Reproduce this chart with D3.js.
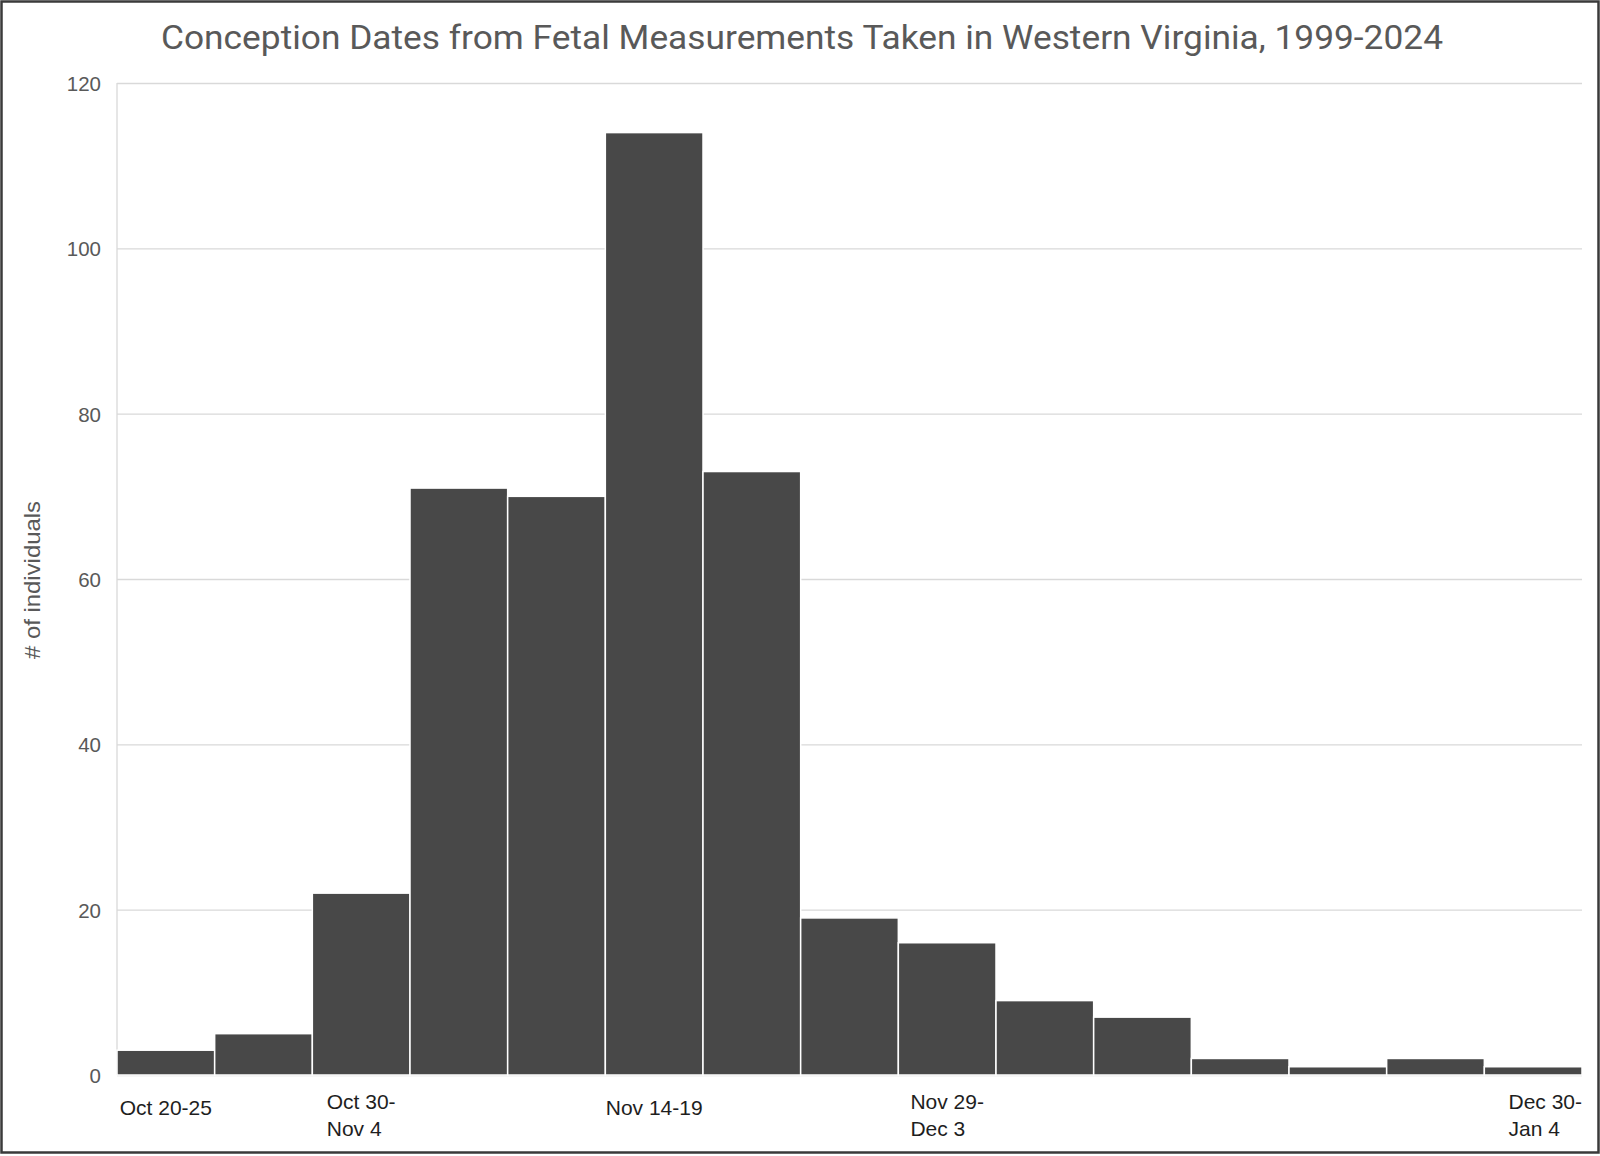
<!DOCTYPE html>
<html>
<head>
<meta charset="utf-8">
<script src="https://cdn.jsdelivr.net/npm/d3@7"></script>
<style>
  html, body { margin: 0; padding: 0; background: #fff; }
  svg { display: block; }
</style>
</head>
<body>
<svg id="chart" width="1600" height="1156"></svg>
<script>
const chartTitle = "Conception Dates from Fetal Measurements Taken in Western Virginia, 1999-2024";
const yAxisTitle = "# of individuals";
const categories = ["Oct 20-25","Oct 25-30","Oct 30-Nov 4","Nov 4-9","Nov 9-14","Nov 14-19","Nov 19-24","Nov 24-29","Nov 29-Dec 3","Dec 4-9","Dec 9-14","Dec 14-19","Dec 19-24","Dec 24-29","Dec 30-Jan 4"];
const counts = [3, 5, 22, 71, 70, 114, 73, 19, 16, 9, 7, 2, 1, 2, 1];
const xTickLabels = ["Oct 20-25","Oct 30-Nov 4","Nov 14-19","Nov 29-Dec 3","Dec 30-Jan 4"];
const yTicks = [0, 20, 40, 60, 80, 100, 120];

const W = 1600, H = 1156;
const margin = {left: 117, right: 18, top: 83, bottom: 81};
const svg = d3.select("#chart");

svg.append("rect").attr("x", 0).attr("y", 0).attr("width", W).attr("height", H).attr("fill", "#fff");

const x = d3.scaleBand().domain(categories).range([margin.left, W - margin.right]).padding(0);
const y = d3.scaleLinear().domain([0, 120]).range([H - margin.bottom, margin.top]);

// gridlines
const grid = svg.append("g").attr("transform", `translate(${margin.left},0)`)
  .call(d3.axisLeft(y).tickValues(yTicks).tickSize(-(W - margin.right - margin.left)).tickFormat(""));
grid.select(".domain").remove();
grid.selectAll("line").attr("stroke", "#d9d9d9").attr("stroke-width", 1.3);

// left vertical line
svg.append("line").attr("x1", margin.left).attr("x2", margin.left)
  .attr("y1", y(120)).attr("y2", y(0)).attr("stroke", "#d9d9d9").attr("stroke-width", 1.3);

// bars
svg.append("g").selectAll("rect").data(counts).join("rect")
  .attr("x", (d, i) => x(categories[i]))
  .attr("width", x.bandwidth())
  .attr("y", d => y(d))
  .attr("height", d => y(0) - y(d))
  .attr("fill", "#484848")
  .attr("stroke", "#ffffff")
  .attr("stroke-width", 1.5);

// y axis labels
const yAxis = svg.append("g").attr("transform", `translate(${margin.left - 16},0)`)
  .call(d3.axisLeft(y).tickValues(yTicks).tickSize(0).tickPadding(0));
yAxis.select(".domain").remove();
yAxis.selectAll("text").attr("font-family", "Liberation Sans, Arial, sans-serif")
  .attr("font-size", 20.5).attr("fill", "#595959").attr("dy", "0.36em");

// x axis labels
const lastCat = categories[categories.length - 1];
const xAxis = svg.append("g").attr("transform", `translate(0,${y(0)})`)
  .call(d3.axisBottom(x).tickValues(xTickLabels).tickSize(0).tickPadding(0));
xAxis.select(".domain").remove();
xAxis.selectAll("text").each(function(d) {
  const t = d3.select(this);
  const m = d.match(/^(\w+ \d+-)(\w+ \d+)$/);
  const lines = m ? [m[1], m[2]] : [d];
  const y0 = lines.length === 1 ? 40 : 34;
  t.text(null).attr("font-family", "Liberation Sans, Arial, sans-serif")
    .attr("font-size", 21).attr("fill", "#1e1e1e").attr("dy", null).attr("y", 0)
    .attr("text-anchor", "start");
  const spans = lines.map((s, i) => t.append("tspan").attr("y", y0 + i * 27).text(s));
  const wmax = d3.max(spans.map(sp => sp.node().getComputedTextLength()));
  const left = d === lastCat ? x.bandwidth() / 2 - wmax : -wmax / 2;
  spans.forEach(sp => sp.attr("x", left));
});

// title
svg.append("text").attr("x", 802).attr("y", 49).attr("text-anchor", "middle")
  .attr("font-family", "Roboto, 'Open Sans', sans-serif").attr("font-size", 34)
  .attr("fill", "#595959").attr("textLength", 1282).attr("lengthAdjust", "spacingAndGlyphs")
  .text(chartTitle);

// y axis title
svg.append("text").attr("transform", `translate(40,580) rotate(-90)`)
  .attr("text-anchor", "middle")
  .attr("font-family", "Liberation Sans, Arial, sans-serif").attr("font-size", 21.5)
  .attr("fill", "#595959").attr("textLength", 158).attr("lengthAdjust", "spacingAndGlyphs")
  .text(yAxisTitle);

// outer border
svg.append("rect").attr("x", 1.5).attr("y", 1.5).attr("width", W - 3).attr("height", H - 5)
  .attr("fill", "none").attr("stroke", "#3a3a3a").attr("stroke-width", 2.5);
</script>
</body>
</html>
